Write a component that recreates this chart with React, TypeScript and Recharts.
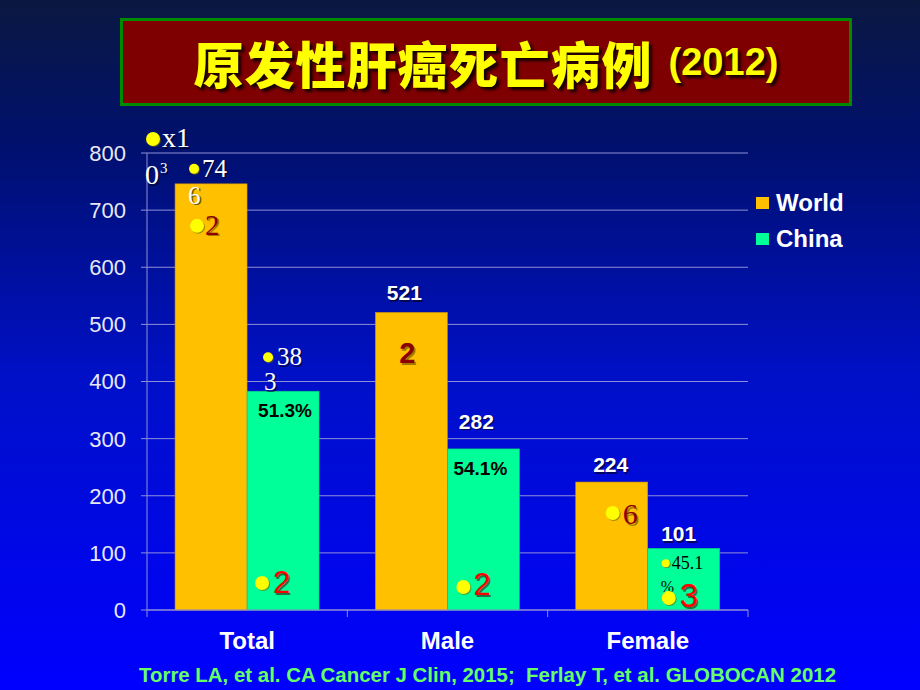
import React from "react";
import { Bar, BarChart, CartesianGrid, Legend, XAxis, YAxis } from "recharts";

const categories = ["Total", "Male", "Female"];
const seriesNames = ["World", "China"];
const worldDeaths = [746, 521, 224];
const chinaDeaths = [383, 282, 108];
const worldLabels = ["746", "521", "224"];
const chinaLabels = ["383", "282", "101"];
const chinaShares = ["51.3%", "54.1%", "45.1%"];
const worldMarks = ["2", "2", "6"];
const chinaMarks = ["2", "2", "3"];
const yTicks = [0, 100, 200, 300, 400, 500, 600, 700, 800];
const unitNote = ["x1", "0", "3"];

const WORLD = "#ffc000";
const CHINA = "#00ff99";
const GRID = "#8f8fd6";
const SERIF = '"Liberation Serif", "Times New Roman", serif';
const SANS = '"Liberation Sans", Arial, sans-serif';

const data = categories.map((name, i) => ({
  name,
  world: worldDeaths[i],
  china: chinaDeaths[i],
}));

function Txt({
  x,
  y,
  size,
  fill = "#fff",
  font = SERIF,
  weight = "normal",
  anchor = "start",
  shadow = "#000",
  children,
}: any) {
  return (
    <g>
      {shadow && (
        <text x={x + 1.5} y={y + 1.5} fontSize={size} fontFamily={font} fontWeight={weight}
          textAnchor={anchor} fill={shadow} opacity={0.55}>
          {children}
        </text>
      )}
      <text x={x} y={y} fontSize={size} fontFamily={font} fontWeight={weight}
        textAnchor={anchor} fill={fill}>
        {children}
      </text>
    </g>
  );
}

const Dot = ({ cx, cy, r }: any) => (
  <g>
    <circle cx={cx + 1} cy={cy + 1} r={r} fill="#6b6b00" opacity={0.6} />
    <circle cx={cx} cy={cy} r={r} fill="#ffff00" />
  </g>
);

function WorldBar(p: any) {
  const { x, y, width, height, index } = p;
  const cx = x + width / 2;
  const label = worldLabels[index];
  return (
    <g>
      <rect x={x} y={y} width={width} height={height} fill={WORLD} stroke="#c98f00" strokeWidth={0.6} />
      {index === 0 && (
        <>
          <Dot cx={x + 19} cy={y - 15} r={5} />
          <Txt x={x + 27} y={y - 7} size={25}>{label.slice(0, 2)}</Txt>
          <Txt x={x + 13} y={y + 20} size={25}>{label.slice(2)}</Txt>
          <Dot cx={x + 22} cy={y + 42} r={7} />
          <Txt x={x + 30} y={y + 51} size={29} fill="#8b0000" shadow="#5a3a00">{worldMarks[index]}</Txt>
        </>
      )}
      {index === 1 && (
        <>
          <Txt x={cx - 7} y={y - 12} size={21} font={SANS} weight="bold" anchor="middle">{label}</Txt>
          <Txt x={cx - 4} y={y + 51} size={29} font={SANS} weight="bold" anchor="middle"
            fill="#8b0000" shadow="#5a3a00">{worldMarks[index]}</Txt>
        </>
      )}
      {index === 2 && (
        <>
          <Txt x={cx - 1} y={y - 10} size={21} font={SANS} weight="bold" anchor="middle">{label}</Txt>
          <Dot cx={x + 37} cy={y + 31} r={7} />
          <Txt x={x + 47} y={y + 42} size={30} fill="#8b0000" shadow="#5a3a00">{worldMarks[index]}</Txt>
        </>
      )}
    </g>
  );
}

function ChinaBar(p: any) {
  const { x, y, width, height, index } = p;
  const cx = x + width / 2;
  const bottom = y + height;
  const label = chinaLabels[index];
  const share = chinaShares[index];
  return (
    <g>
      <rect x={x} y={y} width={width} height={height} fill={CHINA} stroke="#00c878" strokeWidth={0.6} />
      {index === 0 && (
        <>
          <Dot cx={x + 21} cy={y - 34} r={5} />
          <Txt x={x + 30} y={y - 26} size={25}>{label.slice(0, 2)}</Txt>
          <Txt x={x + 17} y={y - 1} size={25}>{label.slice(2)}</Txt>
          <Txt x={cx + 2} y={y + 26} size={19} font={SANS} weight="bold" anchor="middle" fill="#000" shadow="">{share}</Txt>
          <Dot cx={x + 15} cy={bottom - 27} r={7} />
          <Txt x={x + 26} y={bottom - 17} size={31} font={SANS} fill="#ff0000" shadow="#400000">{chinaMarks[index]}</Txt>
        </>
      )}
      {index === 1 && (
        <>
          <Txt x={cx - 7} y={y - 20} size={21} font={SANS} weight="bold" anchor="middle">{label}</Txt>
          <Txt x={cx - 3} y={y + 26} size={19} font={SANS} weight="bold" anchor="middle" fill="#000" shadow="">{share}</Txt>
          <Dot cx={x + 16} cy={bottom - 23} r={7} />
          <Txt x={x + 26} y={bottom - 15} size={31} font={SANS} fill="#ff0000" shadow="#400000">{chinaMarks[index]}</Txt>
        </>
      )}
      {index === 2 && (
        <>
          <Txt x={cx - 5} y={y - 7} size={21} font={SANS} weight="bold" anchor="middle">{label}</Txt>
          <Dot cx={x + 18} cy={y + 15} r={4} />
          <Txt x={x + 24} y={y + 21} size={18} fill="#000" shadow="">{share.slice(0, 4)}</Txt>
          <Txt x={x + 13} y={y + 44} size={16} fill="#000" shadow="">{share.slice(4)}</Txt>
          <Dot cx={x + 21} cy={bottom - 12} r={7} />
          <Txt x={x + 32} y={bottom - 3} size={33} font={SANS} fill="#ff0000" shadow="#400000">{chinaMarks[index]}</Txt>
        </>
      )}
    </g>
  );
}

function YTick(p: any) {
  const { x, y, payload } = p;
  return (
    <g>
      <text x={x - 13} y={y} dy="0.36em" textAnchor="end" fontFamily={SANS} fontSize={22} fill="#e8e8f4">
        {payload.value}
      </text>
      {payload.value === 800 && (
        <>
          <Dot cx={x + 14} cy={y - 14} r={7} />
          <Txt x={x + 23} y={y - 6} size={28}>{unitNote[0]}</Txt>
          <Txt x={x + 6} y={y + 31} size={28}>{unitNote[1]}</Txt>
          <Txt x={x + 21} y={y + 20} size={15}>{unitNote[2]}</Txt>
        </>
      )}
    </g>
  );
}

function XTick(p: any) {
  const { x, y, payload } = p;
  const half = payload.offset ?? 100;
  const i = categories.indexOf(payload.value);
  return (
    <g>
      <line x1={x - half} x2={x - half} y1={y - 8} y2={y - 1} stroke={GRID} />
      {i === categories.length - 1 && <line x1={x + half} x2={x + half} y1={y - 8} y2={y - 1} stroke={GRID} />}
      <text x={x} y={y + 31} textAnchor="middle" fontFamily={SANS} fontWeight="bold" fontSize={24} fill="#fff">
        {payload.value}
      </text>
    </g>
  );
}

function LegendBox(props: any) {
  const items = [...(props.payload ?? [])].sort(
    (a: any, b: any) => seriesNames.indexOf(a.value) - seriesNames.indexOf(b.value)
  );
  return (
    <div>
      {items.map((it: any) => (
        <div key={it.value} style={{ display: "flex", alignItems: "center", height: 36 }}>
          <span style={{ width: 13, height: 12, background: it.color, marginRight: 7, display: "inline-block" }} />
          <span style={{ fontFamily: SANS, fontWeight: "bold", fontSize: 24, color: "#fff" }}>{it.value}</span>
        </div>
      ))}
    </div>
  );
}

export default function App() {
  return (
    <div
      style={{
        position: "absolute",
        left: 0,
        top: 0,
        width: 920,
        height: 690,
        overflow: "hidden",
        background: "linear-gradient(180deg, #0a1840 0%, #001070 22%, #0010c8 55%, #0000ff 100%)",
      }}
    >
      <div
        style={{
          position: "absolute",
          left: 120,
          top: 18,
          width: 726,
          height: 82,
          background: "#7f0000",
          border: "3px solid #008a00",
          display: "flex",
          alignItems: "center",
          justifyContent: "center",
          color: "#ffff00",
          textShadow: "3px 3px 3px rgba(0,0,0,0.85)",
        }}
      >
        <span style={{ fontFamily: '"Noto Sans CJK SC", sans-serif', fontWeight: 900, fontSize: 50, letterSpacing: 1 }}>
          原发性肝癌死亡病例
        </span>
        <span style={{ fontFamily: SANS, fontWeight: "bold", fontSize: 38, marginLeft: 16 }}>(2012)</span>
      </div>

      <div style={{ position: "absolute", left: 0, top: 0 }}>
        <BarChart
          width={920}
          height={690}
          data={data}
          margin={{ top: 153, right: 172, bottom: 50, left: 87 }}
          barCategoryGap="14%"
          barGap={0}
        >
          <CartesianGrid horizontal vertical={false} stroke={GRID} />
          <XAxis dataKey="name" axisLine={{ stroke: GRID }} tickLine={false} tick={<XTick />} interval={0} />
          <YAxis
            width={60}
            domain={[0, 800]}
            ticks={yTicks}
            axisLine={{ stroke: GRID }}
            tickLine={{ stroke: GRID }}
            tick={<YTick />}
            interval={0}
          />
          <Legend
            layout="vertical"
            align="center"
            verticalAlign="middle"
            wrapperStyle={{ left: 756, top: 185, width: 120 }}
            content={<LegendBox />}
          />
          <Bar dataKey="world" name={seriesNames[0]} fill={WORLD} shape={<WorldBar />} isAnimationActive={false} />
          <Bar dataKey="china" name={seriesNames[1]} fill={CHINA} shape={<ChinaBar />} isAnimationActive={false} />
        </BarChart>
      </div>

      <svg style={{ position: "absolute", left: 0, top: 0 }} width={920} height={690}>
        <text x={139} y={682} textLength={697} lengthAdjust="spacingAndGlyphs" fontFamily={SANS}
          fontWeight="bold" fontSize={21} fill="#66ff66" style={{ whiteSpace: "pre" }}>
          {"Torre LA, et al. CA Cancer J Clin, 2015;  Ferlay T, et al. GLOBOCAN 2012"}
        </text>
      </svg>
    </div>
  );
}
